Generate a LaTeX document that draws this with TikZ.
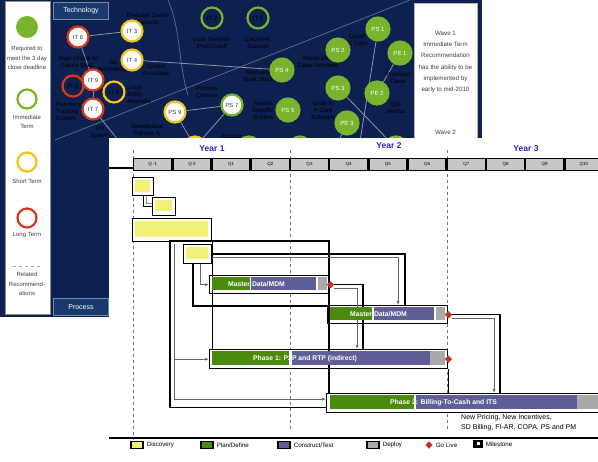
\documentclass[tikz,border=0pt]{standalone}
\usepackage{fontspec}
\setmainfont{Liberation Sans}
\usetikzlibrary{calc,arrows.meta,positioning,shapes.geometric}
\pgfdeclarelayer{back}
\pgfdeclarelayer{bg}
\pgfsetlayers{back,bg,main}
\definecolor{cnavy}{HTML}{0C2150}
\definecolor{ctab}{HTML}{1A3A6E}
\definecolor{cgrn}{HTML}{7AB42E}
\definecolor{cyel}{HTML}{F3C417}
\definecolor{cred}{HTML}{D8391C}
\definecolor{cline}{HTML}{8C95A8}
\definecolor{cdisc}{HTML}{F2F27A}
\definecolor{cplan}{HTML}{4A8A0C}
\definecolor{cbuild}{HTML}{5E5E98}
\definecolor{cdeploy}{HTML}{A9A9A9}
\definecolor{cgolive}{HTML}{E2260E}
\definecolor{cyear}{HTML}{2828C0}
\tikzset{
  rec/.style={circle, minimum size=21pt, line width=2.2pt, inner sep=0pt, font=\fontsize{6}{6}\selectfont},
  recgrn/.style={rec, minimum size=23pt, fill=cgrn, draw=cgrn, text=white},
  recimm/.style={rec, draw=cgrn, fill=cnavy, text=black},
  recimmw/.style={rec, draw=cgrn, fill=white, text=black!75},
  recshort/.style={rec, draw=cyel, fill=white, text=black!75},
  recshorto/.style={rec, draw=cyel, fill=cnavy, text=black},
  reclong/.style={rec, draw=cred, fill=white, text=black!75},
  reclongo/.style={rec, draw=cred, fill=cnavy, text=black},
  tag/.style={font=\fontsize{6}{7}\selectfont, text=black, align=center, inner sep=0pt},
  relline/.style={cline, line width=0.8pt},
  keytext/.style={font=\fontsize{6}{9.6}\selectfont, text=black!75, align=center, inner sep=0pt},
  tabbox/.style={fill=ctab, draw=ctab!60!white, line width=0.6pt, text=white, minimum width=55pt, minimum height=17pt, inner sep=0pt, font=\fontsize{7}{7}\selectfont},
  barbox/.style={draw=black, line width=1.4pt, fill=white, rectangle, anchor=north west, inner sep=0pt},
  qbox/.style={draw=black, line width=1.4pt, fill=black!22, minimum width=38pt, minimum height=12pt, inner sep=0pt, anchor=north west, font=\fontsize{4.5}{5}\selectfont},
  yearlbl/.style={font=\bfseries\fontsize{8.5}{9}\selectfont, text=cyear, inner sep=0pt},
  link/.style={black, line width=1.4pt},
  flow/.style={black!60, line width=0.8pt, -{Latex[length=4pt,width=3pt]}},
  golive/.style={diamond, fill=cgolive, draw=black!60, line width=0.3pt, minimum size=7pt, inner sep=0pt},
  bartext/.style={font=\bfseries\fontsize{6.8}{7}\selectfont, text=white, anchor=west, inner sep=0pt},
  note/.style={font=\fontsize{7}{7}\selectfont, anchor=west, inner sep=0pt},
  legtext/.style={font=\fontsize{6.2}{6.5}\selectfont, anchor=west, inner sep=0pt},
  legbox/.style={draw=black, line width=1.2pt, minimum width=12pt, minimum height=7pt, inner sep=0pt},
}
\begin{document}
\begin{tikzpicture}[x=1pt, y=-1pt, font=\fontsize{6}{7}\selectfont]
\useasboundingbox (0,0) rectangle (598,462);
%% ------------------------------------------------------------------ back slide
\begin{pgfonlayer}{back}
  \fill[white] (0,0) rectangle (598,462);
  \fill[cnavy] (0,0) rectangle (482,317);
  \fill[white] (5,2) rectangle (50,315);
  \draw[black!45, line width=1pt] (5,2) rectangle (50,315);
  \fill[white] (414,3) rectangle (477,140);
  \draw[black!30, line width=0.6pt] (414,3) rectangle (477,140);
\end{pgfonlayer}
% legend column
\node[circle, fill=cgrn, minimum size=22pt] (kreq) at (27,27) {};
\node[keytext] at (27,58) {Required to\\meet the 3 day\\close deadline};
\node[circle, draw=cgrn, line width=2.2pt, minimum size=19pt] (kimm) at (27,99) {};
\node[keytext] at (27,122) {Immediate\\Term};
\node[circle, draw=cyel, line width=2.2pt, minimum size=19pt] (kshort) at (27,162) {};
\node[keytext] at (27,181) {Short Term};
\node[circle, draw=cred, line width=2.2pt, minimum size=19pt] (klong) at (27,218) {};
\node[keytext] at (27,235) {Long Term};
\draw[black!35, dashed, line width=0.8pt] (13,266) -- (42,266);
\node[keytext] at (27,284) {Related\\Recommend-\\ations};
\node[tabbox] (ttech) at (81,11) {Technology};
\node[tabbox] (tproc) at (81,307) {Process};
% wave box
\node[keytext, font=\fontsize{6.2}{11.3}\selectfont] at (445.5,62) {Wave 1\\Immediate Term\\Recommendation\\has the ability to be\\implemented by\\early to mid-2010};
\node[keytext, font=\fontsize{6.2}{7}\selectfont] at (445.5,132) {Wave 2};
% recommendation labels
\node[tag] at (148,19) {Evaluate Server\\Capacity};
\node[tag] at (212,43) {Lock Systems\\Post-Cutoff};
\node[tag] at (258,43) {Electronic\\Support};
\node[tag] at (78,62) {Align Oracle to\\Future State};
\node[tag] at (113,67) {Tax\\Technology};
\node[tag] at (156,70) {Correct\\AutoStats};
\node[tag, align=left] at (139,94) {Local\\Entity\\Accruals};
\node[tag, align=left] at (68,112) {Inventory\\Tracking\\System};
\node[tag] at (100,133) {PO\\System};
\node[tag] at (147,130) {Standardize\\Policies \&};
\node[tag] at (207,92) {Process\\Owners};
\node[tag] at (258,76) {Manually\\Book Stats};
\node[tag] at (318,62) {Rationalize\\Close Activities};
\node[tag] at (357,40) {Cutoff\\IC Days};
\node[tag] at (398,78) {Prioritize\\Close};
\node[tag] at (396,108) {QM\\Metrics};
\node[tag] at (263,110) {Assess\\Specific\\Entities};
\node[tag] at (323,110) {Code in\\P-Card\\Software};
\node[tag] at (232,136) {Monitor};
% recommendations
\node[reclong] (it6) at (78,37) {IT 6};
\node[recshort] (it3) at (132,31) {IT 3};
\node[recshort] (it4) at (132,60) {IT 4};
\node[reclongo] (it8) at (73,86) {IT 8};
\node[reclong] (it9) at (93,80) {IT 9};
\node[recshorto] (it5) at (114,92) {IT 5};
\node[reclong] (it7) at (93,109) {IT 7};
\node[recshort] (ps9) at (175,112) {PS 9};
\node[recimmw] (ps7) at (232,105) {PS 7};
\node[recimm] (it2) at (212,18) {IT 2};
\node[recimm] (it1) at (258,18) {IT 1};
\node[recgrn] (ps1) at (378,29) {PS 1};
\node[recgrn] (ps2) at (338,50) {PS 2};
\node[recgrn] (pe1) at (400,53) {PE 1};
\node[recgrn] (ps4) at (282,70) {PS 4};
\node[recgrn] (ps3) at (338,88) {PS 3};
\node[recgrn] (pe2) at (377,93) {PE 2};
\node[recgrn] (ps5) at (288,110) {PS 5};
\node[recgrn] (pe3) at (347,123) {PE 3};
\node[recshort] (hy1) at (195,147) {};
\node[recgrn] (hg1) at (249,148) {};
\node[recimm] (hg2) at (300,147) {};
\node[recgrn] (hg3) at (396,148) {};
\coordinate (ct1) at (128,152);
\coordinate (ct2) at (357,160);
\coordinate (ct3) at (330,160);
\begin{pgfonlayer}{bg}
  \draw[relline, cline!60!cnavy] (410,0) -- (55,140);
  \draw[relline, cline!60!cnavy] (168,0) .. controls (181,30) and (178,62) .. (188,95);
  \draw[relline] (it6) -- (it3);
  \draw[relline] (it6) -- (it9);
  \draw[relline] (it9) -- (it7);
  \draw[relline] (it7) -- (ct1);
  \draw[relline] (it4) -- (ps4);
  \draw[relline] (ps9) -- (ps7);
  \draw[relline] (ps9) -- (hy1);
  \draw[relline] (ps7) -- (hy1);
  \draw[relline] (ps1) -- (ct2);
  \draw[relline] (ps3) -- (hg3);
  \draw[relline] (pe3) -- (ct3);
  \draw[relline] (pe1) -- (pe2);
\end{pgfonlayer}
%% ------------------------------------------------------------------ front slide
\fill[white] (109,138) rectangle (598,462);
\node[yearlbl] (y1) at (212,149) {Year 1};
\node[yearlbl] (y2) at (389,146) {Year 2};
\node[yearlbl] (y3) at (526,149) {Year 3};
\foreach \x/\b in {133/440,290/432,447/432}
  \draw[black!55, dashed, line width=0.8pt] (\x,150) -- (\x,\b);
\foreach \q [count=\i from 0] in {Q -1,Q 0,Q1,Q2,Q3,Q4,Q5,Q6,Q7,Q8,Q9,Q10}
  \node[qbox] (q\i) at ({133+39.2*\i},158) {\q};
\draw[link] (109,168) -- (133,168);
% tasks
\node[barbox, minimum width=21pt, minimum height=18pt] (d1) at (132,177) {};
\node[barbox, minimum width=23pt, minimum height=18pt] (d2) at (152,197) {};
\node[barbox, minimum width=79pt, minimum height=23pt] (d3) at (132,218) {};
\node[barbox, minimum width=28pt, minimum height=19pt] (d4) at (183,244) {};
\node[barbox, minimum width=120pt, minimum height=18pt] (md1) at (209,275) {};
\node[barbox, minimum width=120pt, minimum height=18pt] (md2) at (327,305) {};
\node[barbox, minimum width=238pt, minimum height=19pt] (ph1) at (209,349) {};
\node[barbox, minimum width=280pt, minimum height=19pt] (ph2) at (326,393) {};
% dependencies
\coordinate (lp) at (170,241);
\coordinate (la) at (405,305);
\coordinate (lc) at (360,349);
\coordinate (ld) at (497,393);
\draw[link] (d1.south) |- (d2.west);
\draw[black!45, line width=0.8pt] ($(d1.south)+(3,0)$) |- ($(d2.west)+(0,-3)$);
\draw[link] ($(ph2.north west)+(3,0)$) |- (lp) |- ($(ph2.west)+(0,4.5)$);
\draw[flow] ($(lp)+(4,3)$) |- (ph1.west);
\draw[flow] ($(lp)+(4,3)$) |- ($(ph2.west)+(0,-4)$);
\draw[link] (d3.south east) -- (d3.south east |- ph1.north);
\draw[link] (d4.east) -| (la);
\draw[flow] ($(d4.east)+(0,3)$) -| ($(la)+(-7,0)$);
\draw[flow] ($(d4.south)+(3,0)$) |- (md1.west);
\draw[link] ($(d4.south west)+(10,0)$) |- ($(md2.north west)+(0,1)$);
\draw[link] (md1.east) -| ($(lc)+(3,0)$);
\draw[flow] ($(md1.east)+(4,4)$) -| ($(lc)+(-3,0)$);
\draw[link] (md2.east) -| ($(ld)+(3,0)$);
\draw[flow] ($(md2.east)+(4,4)$) -| ($(ld)+(-3,0)$);
\draw[link] (ph1.south east) -- (ph1.south east |- ph2.north);
% phases of each task
\fill[cdisc] (135,180) rectangle (150,192);
\fill[cdisc] (155,200) rectangle (172,211);
\fill[cdisc] (135,221) rectangle (208,237);
\fill[cdisc] (186,247) rectangle (208,259);
\fill[cplan] (211.5,277.5) rectangle (249.5,290.5);
\fill[cbuild] (251,277.5) rectangle (316,290.5);
\fill[cdeploy] (318,277.5) rectangle (326.5,290.5);
\fill[cplan] (329.5,307.5) rectangle (372,320.5);
\fill[cbuild] (373.5,307.5) rectangle (434,320.5);
\fill[cdeploy] (436,307.5) rectangle (444.5,320.5);
\fill[cplan] (211.5,351.5) rectangle (289,365.5);
\fill[cbuild] (291.5,351.5) rectangle (430,365.5);
\fill[cdeploy] (430,351.5) rectangle (444.5,365.5);
\fill[cplan] (330,395.5) rectangle (414,409.5);
\fill[cbuild] (416,395.5) rectangle (577,409.5);
\fill[cdeploy] (577,395.5) rectangle (600,409.5);
% go-lives and task names
\node[golive] (g1) at (md1.east) {};
\node[golive] (g2) at (md2.east) {};
\node[golive] (g3) at (ph1.east) {};
\node[bartext] at (228,284) {Master Data/MDM};
\node[bartext] at (350,314) {Master Data/MDM};
\node[bartext] at (253,358.5) {Phase 1: P2P and RTP (indirect)};
\node[bartext] at (390,402.5) {Phase 2: Billing-To-Cash and ITS};
\node[note] at (461,418) {New Pricing, New Incentives,};
\node[note] at (461,428) {SD Billing, FI-AR, COPA, PS and PM};
% legend
\draw[link] (109,438) -- (598,438);
\node[legbox, fill=cdisc] (kdisc) at (137,445) {};
\node[legtext, right=3pt of kdisc] {Discovery};
\node[legbox, fill=cplan] (kplan) at (207,445) {};
\node[legtext, right=3pt of kplan] {Plan/Define};
\node[legbox, fill=cbuild] (kbuild) at (284,445) {};
\node[legtext, right=3pt of kbuild] {Construct/Test};
\node[legbox, fill=cdeploy] (kdep) at (373,445) {};
\node[legtext, right=3pt of kdep] {Deploy};
\node[golive] (kgo) at (429,445) {};
\node[legtext, right=3pt of kgo] {Go Live};
\node[legbox, fill=black, minimum width=8pt] (kmile) at (478,444) {};
\node[legtext, right=3pt of kmile] {Milestone};
\fill[white] (476.5,442) rectangle (479.5,445);
\end{tikzpicture}
\end{document}
